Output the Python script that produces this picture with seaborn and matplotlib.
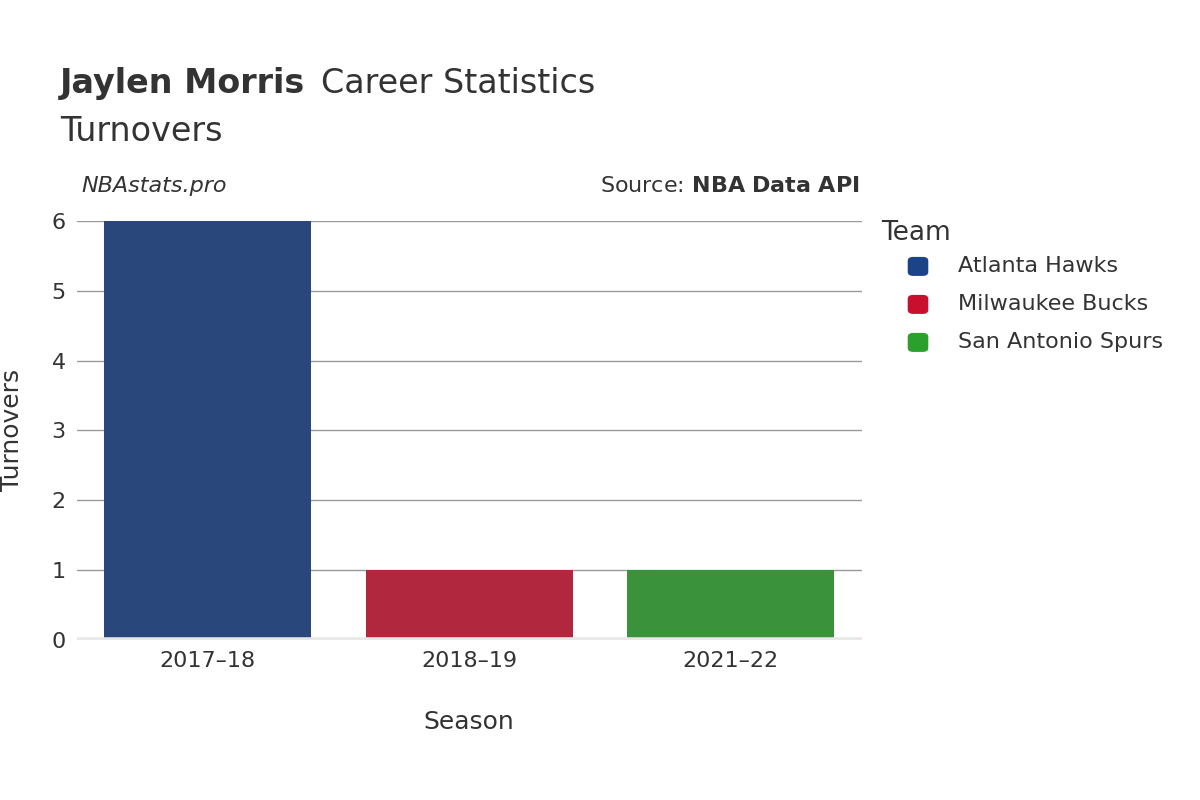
import matplotlib
matplotlib.use("Agg")
import matplotlib.pyplot as plt
import seaborn as sns
import pandas as pd

seasons = ["2017–18", "2018–19", "2021–22"]
teams = ["Atlanta Hawks", "Milwaukee Bucks", "San Antonio Spurs"]
turnovers = [6, 1, 1]
colors = ["#1b4488", "#c8102e", "#2ca02c"]

df = pd.DataFrame({"Season": seasons, "Team": teams, "Turnovers": turnovers})

fig = plt.figure(figsize=(12, 8), dpi=100)
ax = fig.add_axes([0.064, 0.2, 0.654, 0.524])
sns.barplot(data=df, x="Season", y="Turnovers", hue="Team", palette=colors,
            dodge=False, width=0.79, ax=ax, legend=False, zorder=3)
ax.set_ylim(0, 6)
ax.set_xlim(-0.5, 2.5)
ax.set_yticks(range(7))
ax.grid(axis="y", color="#999999", lw=1, zorder=0)
for s in ax.spines.values():
    s.set_visible(False)
ax.axhline(0, color="#e8e8e8", lw=4, zorder=4)
ax.tick_params(axis="both", length=0, labelsize=16, colors="#333333", pad=8)
ax.set_xlabel("Season", fontsize=18, color="#333333", labelpad=28)
ax.set_ylabel("Turnovers", fontsize=18, color="#333333", labelpad=20)

fig.text(0.05, 0.875, "Jaylen Morris", fontsize=24, fontweight="bold", color="#333333", va="bottom")
fig.text(0.2675, 0.875, "Career Statistics", fontsize=24, color="#333333", va="bottom")
fig.text(0.05, 0.815, "Turnovers", fontsize=24, color="#333333", va="bottom")
fig.text(0.068, 0.76, "NBAstats.pro", fontsize=16, style="italic", color="#333333")
fig.text(0.716, 0.76, "Source: $\\bf{NBA\\ Data\\ API}$", fontsize=16, color="#333333", ha="right")

fig.text(0.734, 0.7, "Team", fontsize=19, color="#333333")
for i, (t, c) in enumerate(zip(teams, colors)):
    y = 0.667 - i * 0.0475
    fig.patches.append(matplotlib.patches.FancyBboxPatch((0.757, y - 0.011), 0.016, 0.022,
                       boxstyle="round,pad=0,rounding_size=0.004", transform=fig.transFigure,
                       color=c, figure=fig))
    fig.text(0.798, y, t, fontsize=16, color="#333333", va="center")

fig.savefig("out.png")
